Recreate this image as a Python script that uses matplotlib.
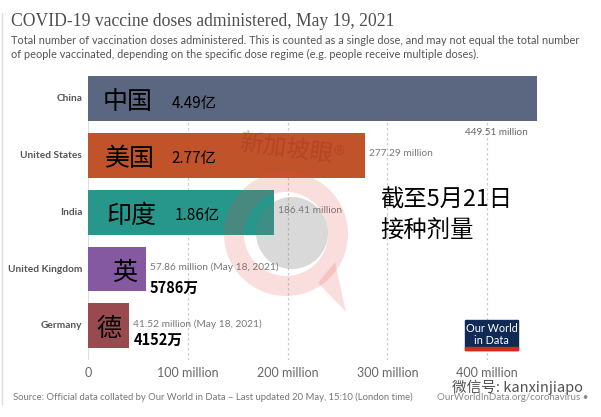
import matplotlib.pyplot as plt
from matplotlib.patches import Wedge, Circle, Rectangle, Polygon

countries = ['China', 'United States', 'India', 'United Kingdom', 'Germany']
doses = [449.51, 277.29, 186.41, 57.86, 41.52]  # million
value_labels = ['449.51 million', '277.29 million', '186.41 million',
                '57.86 million (May 18, 2021)', '41.52 million (May 18, 2021)']
cn_names = ['中国', '美国', '印度', '英', '德']
cn_values = ['4.49亿', '2.77亿', '1.86亿', '5786万', '4152万']
colors = ['#5b6780', '#c1532b', '#27978b', '#8559a1', '#994a4f']
ticks = [0, 100, 200, 300, 400]
tick_labels = ['0', '100 million', '200 million', '300 million', '400 million']

W, H = 601, 417
fig = plt.figure(figsize=(W / 100, H / 100), dpi=100)
CJK = ['Noto Sans CJK SC', 'DejaVu Sans']

def px(x, y):
    return x / W, 1 - y / H

# axes placed in pixel space: x=0 at 88px, 100M ~ 99.8px
ax_l, ax_t, ax_b = 88, 76, 360
xmax = 460
ax = fig.add_axes([ax_l / W, 1 - ax_b / H, xmax * 0.998 / W, (ax_b - ax_t) / H])
ax.set_xlim(0, xmax)
ax.set_ylim(4.6, -0.395)
for s in ax.spines.values():
    s.set_visible(False)
ax.set_yticks([])
ax.set_xticks([])

for t in ticks[1:]:
    ax.axvline(t, color='#cccccc', lw=0.9, ls=(0, (2, 2)), zorder=0)
ax.axvline(0, color='#dddddd', lw=1.5, zorder=0)

ypos = list(range(len(countries)))
ax.barh(ypos, doses, height=0.79, color=colors, zorder=2)

# country labels on left
for y, c in zip(ypos, countries):
    ax.text(-6, y, c, ha='right', va='center', fontsize=7.3, fontweight='bold',
            color='#555555', family='Lato')

# english value labels
ax.text(doses[0] - 9, 0.6, value_labels[0], ha='right', va='center',
        fontsize=7.2, color='#666666', family='Lato')
for i in range(1, 5):
    ax.text(doses[i] + 4, i - 0.03, value_labels[i], ha='left',
            va='center', fontsize=7.3, color='#777777', family='Lato')

# chinese overlay labels
cn_x = [15, 17, 19, 24, 8]
for i in range(5):
    ax.text(cn_x[i], i + 0.06, cn_names[i], ha='left', va='center', fontsize=18,
            color='black', family=CJK, zorder=4)
cn_vx = [84, 84, 87, 62, 46]
cn_vy = [0.08, 0.05, 0.05, 0.33, 0.25]
for i in range(5):
    ax.text(cn_vx[i], i + cn_vy[i], cn_values[i], ha='left', va='center',
            fontsize=11 if i < 3 else 10.5, color='black', family=CJK, zorder=4,
            fontweight='normal' if i < 3 else 'bold')

# x tick labels
for t, lab in zip(ticks, tick_labels):
    fig.text(*px(ax_l + t * 0.998, 373), lab, ha='center', va='center',
             fontsize=9, color='#666666', family='Lato')

# title & subtitle
fig.text(*px(11, 21), 'COVID-19 vaccine doses administered, May 19, 2021',
         ha='left', va='center', fontsize=12.7, color='#4d4d4d', family='Liberation Serif')
fig.text(*px(11, 41), 'Total number of vaccination doses administered. This is counted as a single dose, '
         'and may not equal the total number', ha='left', va='center', fontsize=7.9,
         color='#555555', family='Lato')
fig.text(*px(11, 54), 'of people vaccinated, depending on the specific dose regime '
         '(e.g. people receive multiple doses).', ha='left', va='center', fontsize=7.9,
         color='#555555', family='Lato')

# source line
fig.text(*px(13, 397), 'Source: Official data collated by Our World in Data – Last updated 20 May, 15:10 '
         '(London time)', ha='left', va='center', fontsize=6.8, color='#777777', family='Lato')
fig.text(*px(588, 398), 'OurWorldInData.org/coronavirus •', ha='right', va='center',
         fontsize=7, color='#888888', family='Lato')

# annotation text
fig.text(*px(380, 200), '截至5月21日', ha='left', va='center', fontsize=16.8,
         color='black', family=CJK)
fig.text(*px(380, 230), '接种剂量', ha='left', va='center', fontsize=16.8,
         color='black', family=CJK)

# OWID logo
fig.patches.append(Rectangle(px(465, 350), 53 / W, 30 / H, transform=fig.transFigure,
                             color='#0f2a54', zorder=5))
fig.patches.append(Rectangle(px(465, 350), 53 / W, 3 / H, transform=fig.transFigure,
                             color='#d42b21', zorder=6))
fig.text(*px(491.5, 329), 'Our World', ha='center', va='center', fontsize=7.8,
         color='white', family='Lato', zorder=7)
fig.text(*px(491.5, 340), 'in Data', ha='center', va='center', fontsize=7.8,
         color='white', family='Lato', zorder=7)

# watermark overlay
wm_ax = fig.add_axes([0, 0, 1, 1], zorder=10)
wm_ax.set_xlim(0, W)
wm_ax.set_ylim(H, 0)
wm_ax.axis('off')
wm_ax.add_patch(Wedge((286, 234), 62, 0, 360, width=20, color='#e8494a', alpha=0.18, lw=0))
wm_ax.add_patch(Polygon([[318, 283], [346, 312], [335, 262]], closed=True,
                        color='#e8494a', alpha=0.18, lw=0))
wm_ax.add_patch(Circle((292, 233), 36, color='#777777', alpha=0.28, lw=0))
wm_ax.text(292, 150, '新加坡眼®', ha='center', va='center', fontsize=17, color='#9e2b20',
           alpha=0.35, rotation=-8, family=CJK)
wm_ax.text(518, 387, '微信号: kanxinjiapo', ha='center', va='center', fontsize=10.5,
           color='#333333', alpha=0.85, family=CJK)
wm_ax.axvline(1.5, ymin=0.03, ymax=0.97, color='#dddddd', lw=1)

plt.savefig('out.png', dpi=100)
